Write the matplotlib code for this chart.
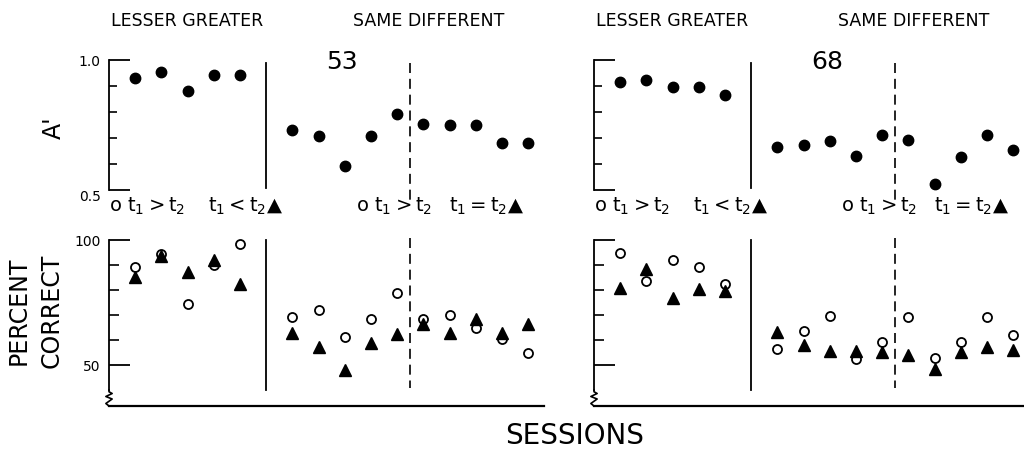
import matplotlib
matplotlib.use("Agg")
import matplotlib.pyplot as plt
from matplotlib.ticker import FixedLocator

W, H = 1024, 451

# session numbers (gap at 6 = task change)
sessions = [1, 2, 3, 4, 5, 7, 8, 9, 10, 11, 12, 13, 14, 15, 16]

# bird 53
a_53 = [0.932, 0.954, 0.882, 0.942, 0.942, 0.732, 0.708, 0.594, 0.708, 0.793,
        0.754, 0.749, 0.751, 0.680, 0.680]
open_53 = [89.1, 94.3, 74.4, 90.0, 98.3, 69.1, 72.0, 61.3, 68.4, 78.7,
           68.4, 70.0, 64.7, 60.4, 54.9]
tri_53 = [85.3, 93.6, 87.3, 92.0, 82.4, 62.9, 57.1, 48.0, 58.9, 62.3,
          66.3, 62.7, 68.3, 62.9, 66.4]

# bird 68
a_68 = [0.917, 0.923, 0.897, 0.895, 0.865, 0.667, 0.672, 0.690, 0.630, 0.713,
        0.691, 0.522, 0.628, 0.710, 0.654]
open_68 = [94.7, 83.6, 92.0, 89.3, 82.3, 56.5, 63.7, 69.6, 52.3, 59.3,
           69.3, 52.7, 59.3, 69.1, 62.0]
tri_68 = [80.9, 88.3, 76.9, 80.3, 79.7, 63.3, 58.0, 55.6, 55.6, 55.3,
          54.0, 48.3, 55.3, 57.3, 56.0]

fig = plt.figure(figsize=(W / 100, H / 100), dpi=100)
fig.patch.set_facecolor("white")


def px_axes(left, top, right, bottom):
    return fig.add_axes([left / W, 1 - bottom / H, (right - left) / W, (bottom - top) / H])


def ftext(x, y, s, **kw):
    kw.setdefault("ha", "center")
    kw.setdefault("va", "center")
    fig.text(x / W, 1 - y / H, s, **kw)


def panel(x0, a_vals, o_vals, t_vals, labels, bird):
    xmax = 16.6
    right = x0 + xmax * 26.2
    top = px_axes(x0, 60, right, 190)
    bot = px_axes(x0, 240, right, 406)

    # A' panel
    top.plot(sessions, a_vals, "o", color="black", ms=7.5, clip_on=False)
    top.set_xlim(0, xmax)
    top.set_ylim(0.5, 1.0)
    for s in ["top", "right", "bottom"]:
        top.spines[s].set_visible(False)
    top.spines["left"].set_linewidth(1.3)
    top.yaxis.set_major_locator(FixedLocator([0.5, 1.0]))
    top.yaxis.set_minor_locator(FixedLocator([0.6, 0.7, 0.8, 0.9]))
    top.tick_params(axis="y", which="major", direction="in", length=15, width=1.3, pad=6,
                    labelsize=10, labelleft=labels)
    top.tick_params(axis="y", which="minor", direction="in", length=6, width=1.2)
    top.set_xticks([])
    if labels:
        top.set_yticklabels(["0.5", "1.0"])
        top.get_yticklabels()[0].set_va("top")
    top.plot([6, 6], [0.988, 0.508], color="black", lw=1.3, clip_on=False)
    top.plot([11.5, 11.5], [0.99, 0.45], color="black", lw=1.2, ls=(0, (6, 3.5)), clip_on=False)

    # percent correct panel
    bot.plot(sessions, o_vals, "o", mfc="white", mec="black", mew=1.3, ms=6.5, clip_on=False)
    bot.plot(sessions, t_vals, "^", color="black", ms=8, clip_on=False)
    bot.set_xlim(0, xmax)
    bot.set_ylim(33.6, 100)
    for s in ["top", "right"]:
        bot.spines[s].set_visible(False)
    bot.spines["left"].set_bounds(40, 100)
    bot.spines["left"].set_linewidth(1.3)
    bot.spines["bottom"].set_linewidth(1.6)
    bot.yaxis.set_major_locator(FixedLocator([50, 100]))
    bot.yaxis.set_minor_locator(FixedLocator([60, 70, 80, 90]))
    bot.tick_params(axis="y", which="major", direction="in", length=15, width=1.3, pad=6,
                    labelsize=10, labelleft=labels)
    bot.tick_params(axis="y", which="minor", direction="in", length=7, width=1.2)
    bot.set_xticks([])
    if labels:
        bot.set_yticklabels(["50", "100"])
    bot.plot([6, 6], [100, 40], color="black", lw=1.3, clip_on=False)
    bot.plot([11.5, 11.5], [101, 41], color="black", lw=1.2, ls=(0, (6, 3.5)), clip_on=False)
    # axis break mark
    bot.plot([0, 0.0, 0.12, -0.12, 0.12, -0.12, 0.0],
             [40, 39.3, 38.6, 37.4, 36.4, 34.6, 33.6], color="black", lw=1.2, clip_on=False)

    # headings and key
    cx = lambda s: x0 + s * 26.2
    ftext(cx(3.0), 21, "LESSER GREATER", fontsize=12.5)
    ftext(cx(12.2), 21, "SAME DIFFERENT", fontsize=12.5)
    ftext(cx(8.9), 62, bird, fontsize=18)
    ftext(cx(1.45), 206, r"o $\mathrm{t}_1 > \mathrm{t}_2$", fontsize=14)
    ftext(cx(5.2), 206, r"$\mathrm{t}_1 < \mathrm{t}_2$▲", fontsize=14)
    ftext(cx(10.9), 206, r"o $\mathrm{t}_1 > \mathrm{t}_2$", fontsize=14)
    ftext(cx(14.4), 206, r"$\mathrm{t}_1 = \mathrm{t}_2$▲", fontsize=14)


panel(109, a_53, open_53, tri_53, True, "53")
panel(594, a_68, open_68, tri_68, False, "68")

ftext(54, 128, "A'", fontsize=17, rotation=90)
ftext(19, 311, "PERCENT", fontsize=17, rotation=90)
ftext(52, 311, "CORRECT", fontsize=17, rotation=90)
ftext(575, 436, "SESSIONS", fontsize=20)

fig.savefig("out.png", dpi=100, facecolor="white")
